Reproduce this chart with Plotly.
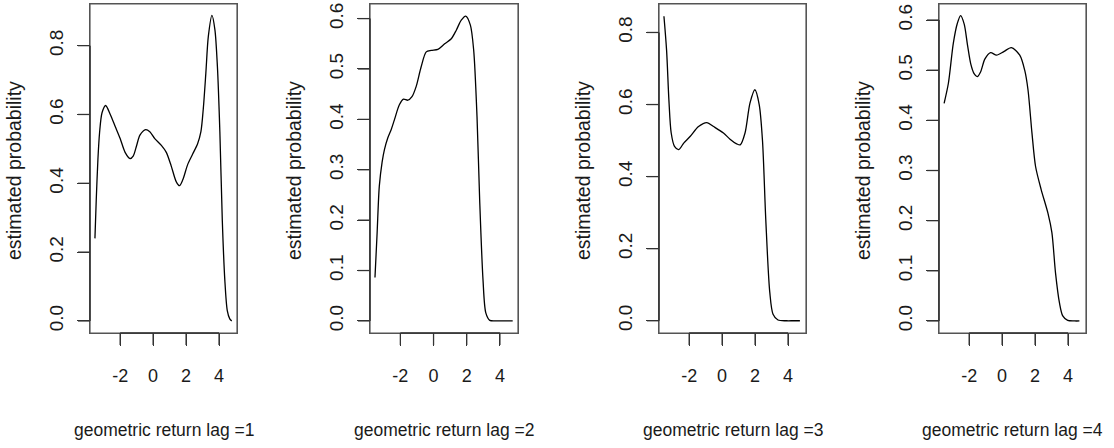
import plotly.graph_objects as go

# ---- data ----
lag1_x = [-3.53, -3.45, -3.35, -3.25, -3.1, -2.88, -2.6, -2.3, -2.0, -1.7, -1.4, -1.2, -1.0, -0.8,
          -0.45, -0.2, 0.1, 0.5, 0.8, 1.1, 1.4, 1.6, 1.8, 2.1, 2.4, 2.7, 2.9, 3.05, 3.2, 3.35,
          3.57, 3.75, 3.9, 4.05, 4.2, 4.35, 4.5, 4.65, 4.77]
lag1_y = [0.24, 0.353, 0.469, 0.547, 0.605, 0.626, 0.60, 0.565, 0.53, 0.49, 0.472, 0.48, 0.51, 0.54,
          0.556, 0.55, 0.53, 0.51, 0.49, 0.45, 0.405, 0.393, 0.41, 0.455, 0.485, 0.515, 0.55, 0.62,
          0.72, 0.827, 0.888, 0.846, 0.74, 0.55, 0.29, 0.12, 0.03, 0.006, 0.0]

lag2_x = [-3.53, -3.4, -3.27, -3.1, -2.96, -2.76, -2.55, -2.36, -2.06, -1.81, -1.55, -1.3, -1.05,
          -0.75, -0.44, -0.14, 0.26, 0.67, 1.07, 1.37, 1.67, 1.94, 2.22, 2.42, 2.62, 2.78, 2.98,
          3.15, 3.39, 3.8, 4.3, 4.77]
lag2_y = [0.086, 0.175, 0.267, 0.315, 0.34, 0.363, 0.38, 0.399, 0.429, 0.44, 0.438, 0.445, 0.465,
          0.504, 0.534, 0.537, 0.539, 0.55, 0.56, 0.577, 0.597, 0.605, 0.587, 0.537, 0.405, 0.24,
          0.082, 0.016, 0.001, 0.0, 0.0, 0.0]

lag3_x = [-3.53, -3.37, -3.23, -3.09, -2.89, -2.63, -2.33, -1.93, -1.43, -0.92, -0.52, 0.08, 0.48,
          0.88, 1.1, 1.39, 1.69, 1.99, 2.25, 2.45, 2.65, 2.89, 3.09, 3.39, 3.9, 4.3, 4.72]
lag3_y = [0.845, 0.751, 0.613, 0.521, 0.484, 0.475, 0.493, 0.512, 0.539, 0.55, 0.539, 0.521, 0.504,
          0.491, 0.488, 0.521, 0.604, 0.641, 0.60, 0.50, 0.28, 0.08, 0.018, 0.002, 0.0, 0.0, 0.0]

lag4_x = [-3.52, -3.26, -2.96, -2.72, -2.52, -2.3, -2.1, -1.9, -1.7, -1.51, -1.3, -1.05, -0.70,
          -0.34, 0.1, 0.56, 1.07, 1.37, 1.57, 1.81, 2.03, 2.37, 2.78, 3.02, 3.24, 3.48, 3.68, 3.98,
          4.4, 4.69]
lag4_y = [0.434, 0.474, 0.554, 0.593, 0.609, 0.592, 0.55, 0.512, 0.493, 0.487, 0.497, 0.522, 0.535,
          0.53, 0.537, 0.545, 0.53, 0.50, 0.461, 0.375, 0.308, 0.262, 0.215, 0.176, 0.096, 0.036,
          0.01, 0.001, 0.0, 0.0]

x_ticks = [-2, 0, 2, 4]
y_ticks_a = [0.0, 0.2, 0.4, 0.6, 0.8]
y_ticks_b = [0.0, 0.1, 0.2, 0.3, 0.4, 0.5, 0.6]
lags = [1, 2, 3, 4]
x_title = "geometric return lag ="
y_title = "estimated probability"

series = [(lag1_x, lag1_y), (lag2_x, lag2_y), (lag3_x, lag3_y), (lag4_x, lag4_y)]
y_tick_sets = [y_ticks_a, y_ticks_b, y_ticks_a, y_ticks_b]

# ---- layout / style ----
W, H = 1114, 448
ML, MR, MT, MB = 60, 10, 2, 90
PW, PH = W - ML - MR, H - MT - MB
x_range = [-3.83, 5.09]
y_ranges = [[-0.035, 0.921], [-0.024, 0.629], [-0.034, 0.879], [-0.024, 0.632]]
x_px = [(90, 237), (370, 518), (659, 806), (939, 1086)]
top_px, bot_px = 4, 333
TICK = 12


def px_to_paper_x(px):
    return (px - ML) / PW


def px_to_paper_y(py):
    return (H - MB - py) / PH


FONT = "Liberation Sans, Arial, Helvetica, sans-serif"
TXT = "#1a1a1a"
BOX = "#555555"
AXC = "#333333"

fig = go.Figure()
layout = dict(
    width=W, height=H, margin=dict(l=ML, r=MR, t=MT, b=MB),
    paper_bgcolor="white", plot_bgcolor="white", showlegend=False,
    font=dict(family=FONT, size=17, color=TXT),
)

for i, ((xs, ys), yt, yr, (px0, px1), lag) in enumerate(zip(series, y_tick_sets, y_ranges, x_px, lags)):
    n = i + 1
    sfx = "" if n == 1 else str(n)
    xa, ya = "x" + sfx, "y" + sfx
    wpx, hpx = px1 - px0, bot_px - top_px
    fig.add_trace(go.Scatter(
        x=xs, y=ys, mode="lines", xaxis=xa, yaxis=ya,
        line=dict(color="black", width=1.3, shape="spline", smoothing=0.8),
        hoverinfo="skip",
    ))
    layout["xaxis" + sfx] = dict(
        domain=[px_to_paper_x(px0), px_to_paper_x(px1)], range=x_range, anchor=ya,
        tickvals=x_ticks, ticktext=[str(v) for v in x_ticks],
        ticks="outside", ticklen=TICK, tickcolor=AXC, tickwidth=1,
        showline=True, mirror=True, linecolor=BOX, linewidth=1,
        showgrid=False, zeroline=False,
        tickfont=dict(family=FONT, size=18, color=TXT), ticklabelstandoff=14,
    )
    layout["yaxis" + sfx] = dict(
        domain=[px_to_paper_y(bot_px), px_to_paper_y(top_px)], range=yr, anchor=xa,
        tickvals=yt, ticktext=[f"{v:.1f}" for v in yt], tickangle=-90,
        ticks="outside", ticklen=TICK, tickcolor=AXC, tickwidth=1,
        showline=True, mirror=True, linecolor=BOX, linewidth=1,
        showgrid=False, zeroline=False,
        tickfont=dict(family=FONT, size=19, color=TXT), ticklabelstandoff=6,
    )
    # plot box
    fig.add_shape(type="rect", xref=xa + " domain", yref=ya + " domain",
                  x0=0, x1=1, y0=0, y1=1, line=dict(color=BOX, width=1.2))
    # R-style axis segments spanning first to last tick, with tick marks
    fig.add_shape(type="line", xref=xa, yref=ya + " domain",
                  x0=min(x_ticks), x1=max(x_ticks), y0=0, y1=0,
                  line=dict(color=AXC, width=1.5))
    fig.add_shape(type="line", xref=xa + " domain", yref=ya,
                  x0=0, x1=0, y0=min(yt), y1=max(yt),
                  line=dict(color=AXC, width=1.5))
    for v in x_ticks:
        fig.add_shape(type="line", xref=xa, yref=ya + " domain",
                      x0=v, x1=v, y0=0, y1=-TICK / hpx, line=dict(color=AXC, width=1.3))
    for v in yt:
        fig.add_shape(type="line", xref=xa + " domain", yref=ya,
                      x0=0, x1=-TICK / wpx, y0=v, y1=v, line=dict(color=AXC, width=1.3))
    # axis titles
    fig.add_annotation(text=f"{x_title}{lag}", xref=xa + " domain", yref="paper",
                       x=0.5, y=px_to_paper_y(430), xanchor="center", yanchor="middle",
                       showarrow=False, font=dict(family=FONT, size=17.5, color=TXT))
    fig.add_annotation(text=y_title, xref=xa + " domain", yref="paper",
                       x=-76 / wpx,
                       y=px_to_paper_y(171), xanchor="center", yanchor="middle", textangle=-90,
                       showarrow=False, font=dict(family=FONT, size=19.5, color=TXT))

fig.update_layout(**layout)
fig.write_html("out.html")
